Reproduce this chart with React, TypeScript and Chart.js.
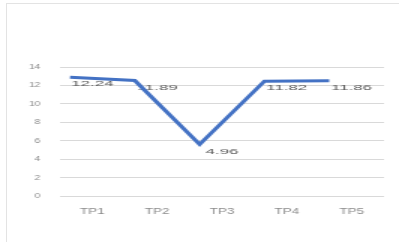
import React, { useEffect, useRef } from "react";
import { Chart, registerables } from "chart.js";

Chart.register(...registerables);

const categories = ["TP1", "TP2", "TP3", "TP4", "TP5"];
const values = [12.24, 11.89, 4.96, 11.82, 11.86];
const valueLabels = ["12.24", "11.89", "4.96", "11.82", "11.86"];
const yTicks = { min: 0, max: 14, step: 2 };

const labelPlugin = {
  id: "valueLabels",
  beforeDatasetsDraw(chart: any) {
    const ctx = chart.ctx;
    const xs = chart.scales.x;
    const ys = chart.scales.y;
    ctx.save();
    ctx.font = "8px 'Liberation Sans'";
    ctx.fillStyle = "#595959";
    ctx.textAlign = "center";
    ctx.textBaseline = "middle";
    values.forEach((v, i) => {
      const x = xs.getPixelForValue(i);
      const y = ys.getPixelForValue(v) + 1;
      ctx.save();
      ctx.translate(x, y);
      ctx.scale(1.4, 1);
      ctx.fillText(valueLabels[i], 0, 0);
      ctx.restore();
    });
    ctx.restore();
  },
};

export default function App() {
  const ref = useRef<HTMLCanvasElement>(null);
  useEffect(() => {
    document.body.style.margin = "0";
    const chart = new Chart(ref.current as HTMLCanvasElement, {
      type: "line",
      data: {
        labels: categories,
        datasets: [
          {
            data: values.map((v, i) => ({ x: i, y: v })),
            xAxisID: "x2",
            yAxisID: "y2",
            borderColor: "#4472C4",
            borderWidth: 3,
            pointRadius: 0,
            fill: false,
            tension: 0,
          },
        ],
      },
      options: {
        animation: false,
        responsive: false,
        devicePixelRatio: 1,
        layout: { padding: { left: 0, right: 10, top: 67, bottom: 16 } },
        plugins: { legend: { display: false }, tooltip: { enabled: false } },
        scales: {
          x: {
            type: "category",
            offset: true,
            grid: { display: false },
            border: { display: false },
            ticks: {
              padding: 2,
              color: "#8c8c8c",
              font: { family: "'Liberation Sans'", size: 9 },
              maxRotation: 0,
            },
            afterFit: (s: any) => {
              s.height = 30;
            },
          },
          x2: {
            type: "linear",
            display: false,
            min: -0.155,
            max: 4.845,
          },
          y: {
            min: yTicks.min,
            max: yTicks.max,
            ticks: {
              stepSize: yTicks.step,
              padding: 13,
              color: "#8c8c8c",
              font: { family: "'Liberation Sans'", size: 7 },
            },
            grid: { color: "#d9d9d9", drawTicks: false, lineWidth: 1 },
            border: { display: false },
            afterFit: (s: any) => {
              s.width = 40;
            },
          },
          y2: {
            display: false,
            min: yTicks.min - 0.64,
            max: yTicks.max - 0.64,
          },
        },
      },
      plugins: [labelPlugin],
    } as any);
    return () => chart.destroy();
  }, []);

  return (
    <div style={{ position: "relative", width: 399, height: 242, overflow: "hidden", background: "#fff" }}>
      <div
        style={{
          position: "absolute",
          left: 6,
          top: 3,
          width: 500,
          height: 300,
          border: "1px solid #e3e3e3",
        }}
      />
      <div
        style={{
          position: "absolute",
          left: 0,
          top: 0,
          width: 266,
          height: 242,
          transform: "scaleX(1.5)",
          transformOrigin: "0 0",
        }}
      >
        <canvas ref={ref} width={266} height={242} style={{ display: "block" }} />
      </div>
    </div>
  );
}
